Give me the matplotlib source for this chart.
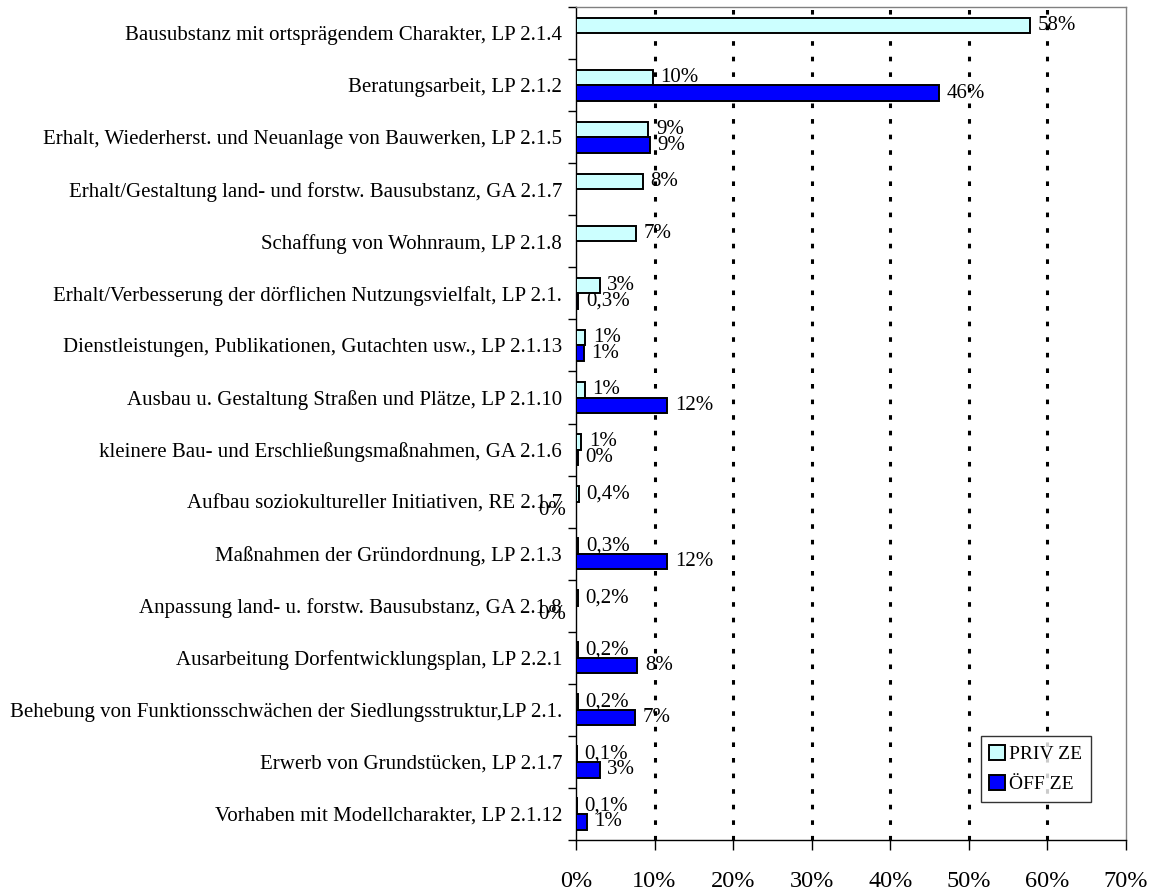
import numpy as np
import matplotlib
matplotlib.use("Agg")
import matplotlib.pyplot as plt
from matplotlib.patches import Patch
from matplotlib.ticker import FixedLocator, PercentFormatter

plt.rcParams['font.family'] = ['Liberation Serif', 'DejaVu Serif']

categories = [
    "Bausubstanz mit ortsprägendem Charakter, LP 2.1.4",
    "Beratungsarbeit, LP 2.1.2",
    "Erhalt, Wiederherst. und Neuanlage von Bauwerken, LP 2.1.5",
    "Erhalt/Gestaltung land- und forstw. Bausubstanz, GA 2.1.7",
    "Schaffung von Wohnraum, LP 2.1.8",
    "Erhalt/Verbesserung der dörflichen Nutzungsvielfalt, LP 2.1.",
    "Dienstleistungen, Publikationen, Gutachten usw., LP 2.1.13",
    "Ausbau u. Gestaltung Straßen und Plätze, LP 2.1.10",
    "kleinere Bau- und Erschließungsmaßnahmen, GA 2.1.6",
    "Aufbau soziokultureller Initiativen, RE 2.1.7",
    "Maßnahmen der Gründordnung, LP 2.1.3",
    "Anpassung land- u. forstw. Bausubstanz, GA 2.1.8",
    "Ausarbeitung Dorfentwicklungsplan, LP 2.2.1",
    "Behebung von Funktionsschwächen der Siedlungsstruktur,LP 2.1.",
    "Erwerb von Grundstücken, LP 2.1.7",
    "Vorhaben mit Modellcharakter, LP 2.1.12",
]

# shares in percent
priv = [57.8, 9.8, 9.2, 8.5, 7.6, 3.0, 1.2, 1.1, 0.7, 0.4, 0.3, 0.2, 0.2, 0.2, 0.1, 0.1]
oeff = [np.nan, 46.2, 9.4, np.nan, np.nan, 0.3, 1.0, 11.6, 0.2, 0.0, 11.6, 0.0, 7.8, 7.5, 3.0, 1.4]

priv_labels = ["58%", "10%", "9%", "8%", "7%", "3%", "1%", "1%", "1%", "0,4%",
               "0,3%", "0,2%", "0,2%", "0,2%", "0,1%", "0,1%"]
oeff_labels = [None, "46%", "9%", None, None, "0,3%", "1%", "12%", "0%", "0%",
               "12%", "0%", "8%", "7%", "3%", "1%"]

series_names = ["PRIV ZE", "ÖFF ZE"]
x_ticks = [0, 10, 20, 30, 40, 50, 60, 70]

PRIV_COLOR = "#CCFFFF"
OEFF_COLOR = "#0000FF"

fig = plt.figure(figsize=(11.57, 8.9), dpi=100)
ax = fig.add_axes([0.4978, 0.0562, 0.4754, 0.9358])

n = len(categories)
y = np.arange(n)
h = 0.3

ax.barh(y - h / 2, priv, height=h, color=PRIV_COLOR, edgecolor="black", linewidth=1.4, zorder=3)
ax.barh(y + h / 2, oeff, height=h, color=OEFF_COLOR, edgecolor="black", linewidth=1.4, zorder=3)

lab_fs = 15
for i in range(n):
    ax.annotate(priv_labels[i], (priv[i], y[i] - h / 2), xytext=(5.5, 0),
                textcoords="offset points", va="center", ha="left", fontsize=lab_fs, zorder=4)
    if oeff_labels[i] is None:
        continue
    if oeff[i] > 0:
        ax.annotate(oeff_labels[i], (oeff[i], y[i] + h / 2), xytext=(5.5, 0),
                    textcoords="offset points", va="center", ha="left", fontsize=lab_fs, zorder=4)
    else:
        # zero values: Excel puts the label on the left side of the axis
        ax.annotate(oeff_labels[i], (0, y[i] + h / 2), xytext=(-7, -1),
                    textcoords="offset points", va="center", ha="right", fontsize=lab_fs, zorder=4)

ax.set_xlim(0, 70)
ax.set_ylim(n - 0.5, -0.5)

ax.xaxis.set_major_locator(FixedLocator(x_ticks))
ax.xaxis.set_major_formatter(PercentFormatter(decimals=0))
ax.tick_params(axis="x", which="major", length=7, width=1, direction="out", pad=15, labelsize=17.5)

ax.set_yticks(y)
ax.set_yticklabels(categories)
ax.yaxis.set_minor_locator(FixedLocator(np.arange(-0.5, n, 1)))
ax.tick_params(axis="y", which="major", length=0, pad=10, labelsize=15)
ax.tick_params(axis="y", which="minor", length=6, width=1, direction="out")

for xv in x_ticks[1:-1]:
    ax.axvline(xv, color="black", linewidth=2.2, linestyle=(0, (1.5, 3.6)), zorder=1)

ax.spines["left"].set_color("black")
ax.spines["bottom"].set_color("black")
ax.spines["top"].set_color("#808080")
ax.spines["right"].set_color("#808080")
for s in ax.spines.values():
    s.set_linewidth(1)

handles = [Patch(facecolor=PRIV_COLOR, edgecolor="black", linewidth=1.4),
           Patch(facecolor=OEFF_COLOR, edgecolor="black", linewidth=1.4)]
leg = ax.legend(handles, series_names, loc="lower right", bbox_to_anchor=(0.936, 0.046),
                fontsize=14, frameon=True, fancybox=False, shadow=False,
                handlelength=0.8, handleheight=0.8, handletextpad=0.2,
                borderpad=0.45, labelspacing=0.6, borderaxespad=0)
leg.get_frame().set_edgecolor("black")
leg.get_frame().set_linewidth(1)

fig.savefig("out.png", dpi=100)
